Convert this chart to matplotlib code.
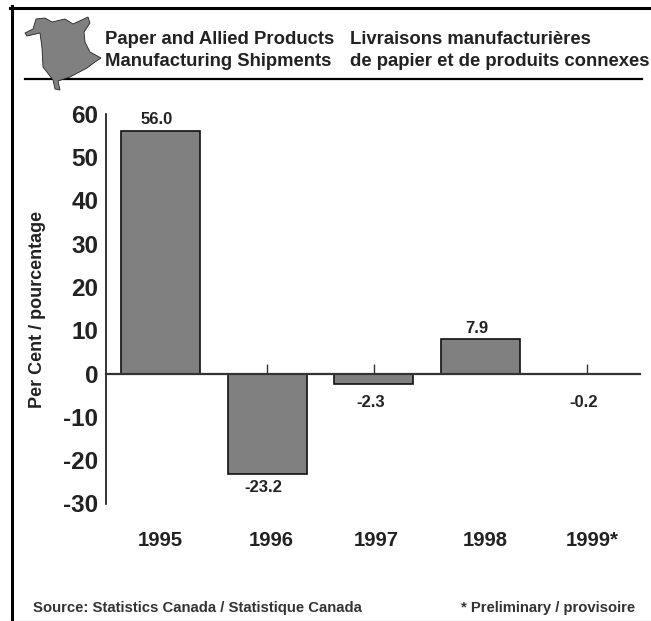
import matplotlib
matplotlib.use("Agg")
import matplotlib.pyplot as plt
from matplotlib.patches import Polygon
from matplotlib.lines import Line2D
from matplotlib.transforms import ScaledTranslation

plt.rcParams['font.family'] = ['Liberation Sans', 'DejaVu Sans']

years = ['1995', '1996', '1997', '1998', '1999*']
values = [56.0, -23.2, -2.3, 7.9, -0.2]
value_labels = ['56.0', '-23.2', '-2.3', '7.9', '-0.2']
y_ticks = [-30, -20, -10, 0, 10, 20, 30, 40, 50, 60]
y_tick_labels = ['-30', '-20', '-10', '0', '10', '20', '30', '40', '50', '60']
title_en = ['Paper and Allied Products', 'Manufacturing Shipments']
title_fr = ['Livraisons manufacturières', 'de papier et de produits connexes']
y_title = 'Per Cent / pourcentage'
source = 'Source: Statistics Canada / Statistique Canada'
note = '* Preliminary / provisoire'

W, H = 651, 621
fig = plt.figure(figsize=(W / 100, H / 100), dpi=100, facecolor='white')
fx = lambda x: x / W
fy = lambda y: 1 - y / H

# frame and header rule
for xs, ys, lw, c in [((11.5, 11.5), (6, 621), 2.2, 'black'),
                      ((10, 651), (7.5, 7.5), 2.2, 'black'),
                      ((25, 642), (79, 79), 1.6, 'black'),
                      ((10, 651), (620.5, 620.5), 0.8, '#666666')]:
    fig.add_artist(Line2D([fx(x) for x in xs], [fy(y) for y in ys], lw=lw, color=c))

# New Brunswick outline
outline = [(25, 33), (33, 29), (36, 19), (45, 18), (52, 22), (65, 19), (73, 24), (88, 17),
           (90, 23), (84, 32), (85, 42), (90, 52), (101, 58), (95, 62), (87, 68), (70, 77),
           (58, 81), (60, 90), (55, 89), (53, 80), (43, 67), (42, 48), (40, 33), (27, 36)]
fig.add_artist(Polygon([(fx(x), fy(y)) for x, y in outline], closed=True,
                       facecolor='#808080', edgecolor='#222222', lw=0.6,
                       transform=fig.transFigure, zorder=3))

# titles
for i, y in enumerate((40, 62)):
    fig.text(fx(105), fy(y), title_en[i], fontsize=13.35, fontweight='bold', va='center', color='#222222')
    fig.text(fx(350), fy(y), title_fr[i], fontsize=13.35, fontweight='bold', va='center', color='#222222')

left, right, top, bottom = 106, 640, 113.7, 503.5
ax = fig.add_axes([fx(left), fy(bottom), (right - left) / W, (bottom - top) / H])
ax.patch.set_alpha(0)
positions = list(range(len(years)))
ax.bar(positions, values, width=0.74, color='#808080', edgecolor='#111111', linewidth=1.2, zorder=2)
ax.set_xlim(-0.511, 4.494)
ax.set_ylim(-30, 60)

for s in ('top', 'right'):
    ax.spines[s].set_visible(False)
ax.spines['bottom'].set_position(('data', 0))
ax.spines['bottom'].set_linewidth(1.6)
ax.spines['bottom'].set_color('#333333')
ax.spines['bottom'].set_zorder(3)
ax.spines['left'].set_linewidth(1.2)
ax.spines['left'].set_color('#111111')

ax.set_yticks(y_ticks)
ax.set_yticklabels(y_tick_labels)
ax.tick_params(axis='y', length=0, pad=5.5, labelsize=17.5, labelcolor='#222222')
ax.set_xticks(positions)
ax.set_xticklabels(years)
ax.tick_params(axis='x', direction='in', length=7.5, width=1, color='#333333',
               pad=113, labelsize=14.6, labelcolor='#222222')
for lab in ax.get_yticklabels():
    lab.set_fontweight('bold')
label_shift_px = [0, 4, 2, 5, 5]
for lab, dx in zip(ax.get_xticklabels(), label_shift_px):
    lab.set_fontweight('bold')
    lab.set_transform(lab.get_transform() + ScaledTranslation(dx / 100, 0, fig.dpi_scale_trans))

label_offsets_pt = [8.5, -10, -14, 8, -20.5]
for p, t, v, off in zip(positions, value_labels, values, label_offsets_pt):
    ax.annotate(t, (p, v), xytext=(-2.5, off), textcoords='offset points', ha='center', va='center',
                fontsize=12, fontweight='bold', color='#222222')

fig.text(fx(38), fy(309), y_title, rotation=90, fontsize=13, fontweight='bold', ha='center', va='center', color='#222222')
fig.text(fx(33), fy(608), source, fontsize=10.75, fontweight='bold', ha='left', va='center', color='#333333')
fig.text(fx(635), fy(608), note, fontsize=10.75, fontweight='bold', ha='right', va='center', color='#333333')

fig.savefig('out.png', dpi=100)
